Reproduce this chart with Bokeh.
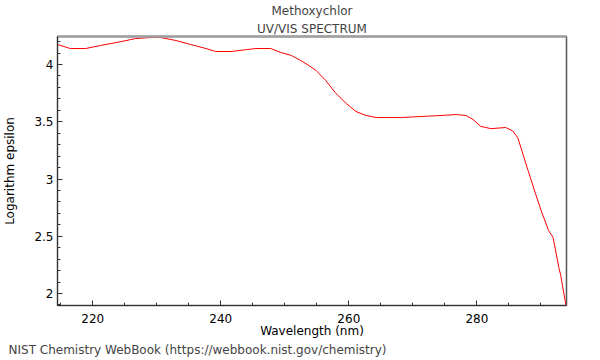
from bokeh.plotting import figure
from bokeh.models import LinearAxis, Title, Range1d, SingleIntervalTicker, FixedTicker
from bokeh.embed import file_html
from bokeh.resources import INLINE

wavelength = [214.5, 216.5, 218.9, 221.2, 224.4, 226.7, 229.1, 230.6, 233.0, 235.3,
              237.7, 239.2, 241.6, 244.0, 245.5, 247.8, 249.4, 251.0, 252.5, 253.8,
              254.9, 256.4, 258.0, 259.6, 261.1, 262.7, 264.3, 268.2, 271.3, 274.4,
              276.8, 278.3, 279.4, 280.6, 282.2, 284.5, 285.6, 286.4, 288.0, 289.2,
              290.0, 291.2, 291.9, 292.8, 293.1, 293.9]
log_eps = [4.175, 4.14, 4.14, 4.166, 4.20, 4.227, 4.236, 4.236, 4.21, 4.175,
           4.14, 4.114, 4.114, 4.13, 4.14, 4.14, 4.105, 4.08, 4.035, 3.99,
           3.948, 3.86, 3.747, 3.66, 3.59, 3.555, 3.537, 3.537, 3.546, 3.555,
           3.563, 3.555, 3.52, 3.46, 3.44, 3.45, 3.42, 3.36, 3.074, 2.865,
           2.73, 2.55, 2.49, 2.227, 2.157, 1.90]

FONT = "DejaVu Sans"

p = figure(frame_width=509, frame_height=269, output_backend="svg", toolbar_location=None,
           x_range=Range1d(214.5, 294.0), y_range=Range1d(1.895, 4.245),
           min_border_left=10, min_border_right=20, min_border_top=31, min_border_bottom=0)
p.outline_line_color = "#555555"
p.outline_line_width = 1.5
p.grid.visible = False
p.background_fill_color = "white"
p.border_fill_color = "white"

p.line(wavelength, log_eps, line_color="#ff0000", line_width=1)

for ax in (p.xaxis[0], p.yaxis[0]):
    ax.major_tick_in = 5
    ax.major_tick_out = 0
    ax.minor_tick_in = 3
    ax.minor_tick_out = 0
    ax.axis_line_color = "#333333"
    ax.major_tick_line_color = "#333333"
    ax.minor_tick_line_color = "#333333"
    ax.major_label_text_font = FONT
    ax.major_label_text_font_size = "12px"
    ax.major_label_text_color = "black"
    ax.axis_label_text_font = FONT
    ax.axis_label_text_font_size = "12px"
    ax.axis_label_text_font_style = "normal"
    ax.axis_label_text_color = "black"

p.xaxis[0].ticker = SingleIntervalTicker(interval=20, num_minor_ticks=4)
p.yaxis[0].ticker = SingleIntervalTicker(interval=0.5, num_minor_ticks=5)
p.xaxis[0].axis_label = "Wavelength (nm)"
p.yaxis[0].axis_label = "Logarithm epsilon"
p.xaxis[0].major_label_standoff = 8
p.xaxis[0].axis_label_standoff = -2
p.yaxis[0].major_label_standoff = 4
p.yaxis[0].axis_label_standoff = 14

top = LinearAxis(ticker=FixedTicker(ticks=[]), axis_line_color="#a0a0a0", axis_line_width=2.5,
                 major_tick_line_color=None, minor_tick_line_color=None,
                 major_label_standoff=0)
p.add_layout(top, "above")

p.add_layout(Title(text="UV/VIS SPECTRUM", align="center", text_font=FONT,
                   text_font_size="12px", text_font_style="normal", standoff=2), "above")
p.add_layout(Title(text="Methoxychlor", align="center", text_font=FONT,
                   text_font_size="12px", text_font_style="normal", standoff=2), "above")
p.add_layout(Title(text="NIST Chemistry WebBook (https://webbook.nist.gov/chemistry)",
                   align="left", text_font=FONT, text_font_size="12px",
                   text_font_style="normal", standoff=1, offset=-49,
                   text_line_height=0.8), "below")

open("out.html", "w").write(file_html(p, INLINE))
